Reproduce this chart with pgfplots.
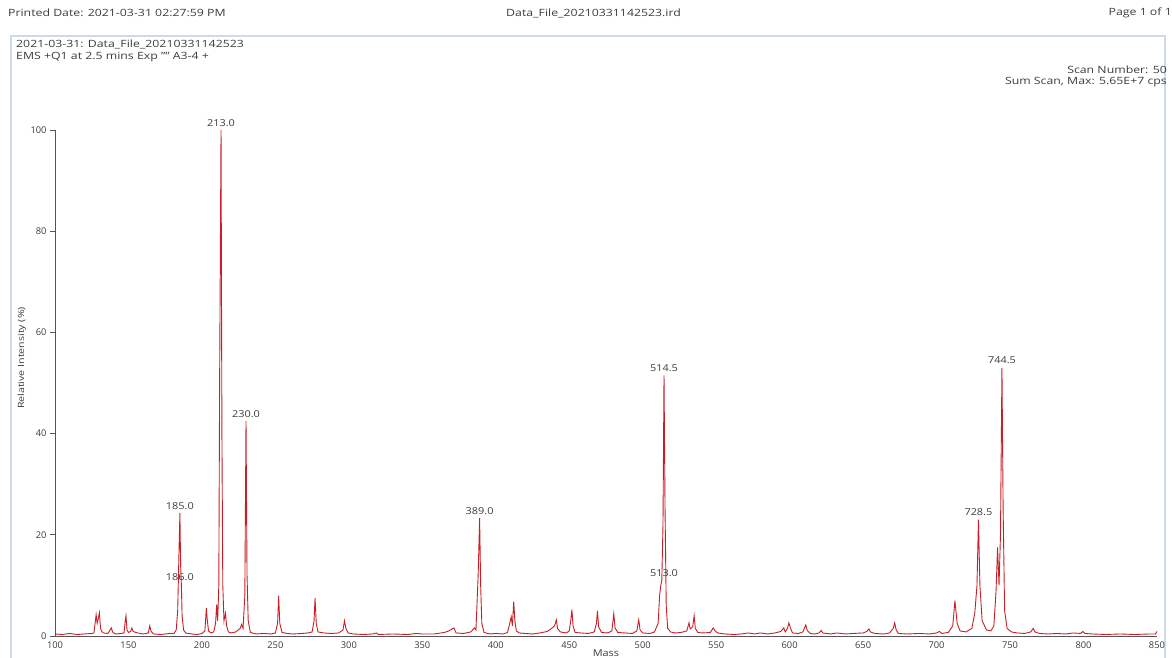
\documentclass[border=0pt]{standalone}
\usepackage{fontspec}
\setmainfont{Open Sans}
\usepackage{graphicx}
\usepackage{pgfplots}
\pgfplotsset{compat=1.18}
\definecolor{specred}{RGB}{200,30,38}
\definecolor{axgray}{RGB}{85,85,85}
\definecolor{txtgray}{RGB}{60,60,60}
\definecolor{framecol}{RGB}{205,218,232}
\newcommand\hdr[1]{\scalebox{1.23}[1]{\fontsize{10}{12}\selectfont #1}}
\newcommand\lab[1]{\scalebox{1.15}[1]{\fontsize{9.5}{11}\selectfont #1}}
\begin{document}
\begin{tikzpicture}[x=1pt,y=1pt]
\path[use as bounding box] (0,0) rectangle (1172,657);
\draw[framecol, line width=2pt] (11,-5) -- (11,621) -- (1165,621) -- (1165,-5);
\node[anchor=west, text=txtgray, inner sep=0] at (8,644) {\hdr{Printed Date: 2021-03-31 02:27:59 PM}};
\node[anchor=west, text=txtgray, inner sep=0] at (506,644) {\hdr{Data\_File\_20210331142523.ird}};
\node[anchor=east, text=txtgray, inner sep=0] at (1172,644) {\hdr{Page 1 of 1}};
\node[anchor=west, text=txtgray, inner sep=0] at (16,613) {\hdr{2021-03-31: Data\_File\_20210331142523}};
\node[anchor=west, text=txtgray, inner sep=0] at (16,600) {\hdr{EMS +Q1 at 2.5 mins Exp "" A3-4 +}};
\node[anchor=east, text=txtgray, inner sep=0] at (1167,587) {\hdr{Scan Number: 50}};
\node[anchor=east, text=txtgray, inner sep=0] at (1167,575) {\hdr{Sum Scan, Max: 5.65E+7 cps}};
\node[rotate=90, text=txtgray, inner sep=0] at (22,299) {\scalebox{1.25}[1]{\fontsize{8.5}{10}\selectfont Relative Intensity (\%)}};
\begin{axis}[
  at={(55pt,21pt)}, anchor=south west,
  width=1102pt, height=506pt, scale only axis,
  xmin=100, xmax=850, ymin=0, ymax=100,
  axis x line=bottom, axis y line=left,
  axis line style={axgray, line width=0.8pt, -},
  xtick={100,150,...,850}, ytick={0,20,...,100},
  tick style={axgray, line width=0.8pt},
  major tick length=5pt,
  x tick style={draw=none},
  tick align=outside,
  /pgf/number format/assume math mode=true,
  tick label style={font=\fontsize{9.3}{11}\selectfont, text=txtgray},
  xticklabel style={yshift=3pt},
  xlabel={\lab{Mass}}, xlabel style={text=txtgray, yshift=6pt},
  clip=false,
]
\addplot[specred, line width=0.9pt] coordinates {
(100,0.4)(105,0.3)(110,0.5)(115,0.3)(120,0.4)(125,0.5)(126.5,0.6)(127.5,3)(128,4.2)(128.7,2.5)(129.5,3.5)(130.2,4.6)(131,1.5)(132,0.8)(133,0.6)(136,0.5)(137.5,1.2)(138.3,1.6)(139.2,0.8)(141,0.4)(145,0.5)(147,0.6)(147.8,3)(148.3,4)(149,1.2)(150,0.7)(151.5,0.9)(152.3,1.6)(153.2,0.9)(155,0.7)(158,0.5)(160,0.4)(163.5,0.6)(164.5,2)(165.3,1)(167,0.4)(172,0.3)(178,0.5)(181,0.5)(182.5,1.2)(183.5,5)(184.5,18)(185,24.3)(185.5,14)(186,10.2)(186.5,4)(187.5,1.2)(189,0.6)(193,0.4)(197,0.3)(200,0.5)(202,1)(203,5.5)(203.7,3)(204.5,1)(206,0.6)(208,0.8)(209.3,2.5)(210,6.2)(210.7,3)(211.5,10)(212,48)(213,100)(213.6,40)(214.2,10)(215,3)(216,4.5)(216.8,2)(218,0.8)(220,0.6)(223,0.8)(226,1.5)(227,2.3)(228,1.5)(229.2,8)(230,42.5)(230.7,12)(231.5,3)(233,0.7)(237,0.4)(242,0.5)(247,0.4)(250,0.6)(251.5,2.5)(252.2,8)(253,2.5)(254.5,0.7)(258,0.5)(262,0.4)(268,0.5)(272,0.6)(275,0.8)(276.3,3)(277,7.5)(277.8,2.5)(279,0.8)(283,0.6)(288,0.5)(293,0.6)(296,1.2)(297,3)(298,1.5)(299.5,0.6)(303,0.4)(310,0.3)(316,0.4)(319,0.6)(320,0.3)(330,0.4)(340,0.3)(346,0.5)(350,0.4)(358,0.4)(365,0.7)(368,1)(371.5,1.6)(373,0.6)(378,0.5)(383,0.8)(385.5,1.6)(386.5,1.2)(388,12)(389,23.3)(389.7,10)(390.5,2.5)(392,0.7)(396,0.4)(400,0.5)(405,0.4)(408,0.7)(409.5,2.5)(410.5,3.8)(411.3,2)(412.2,6.8)(413,3)(414,1)(416,0.6)(420,0.5)(425,0.4)(430,0.6)(435,0.9)(438,1.5)(440,2)(441.2,3.2)(442,1.5)(444,0.8)(448,0.6)(450,1)(451,3)(451.8,5.2)(452.6,2)(454,0.7)(458,0.6)(463,0.5)(467,0.8)(468.5,2.5)(469.2,5)(470,1.8)(472,0.7)(476,0.6)(479,1)(480.3,4.4)(481.2,1.6)(483,0.7)(488,0.6)(493,0.5)(496,1)(497.3,3.2)(498.2,1.2)(500,0.6)(505,0.5)(508,0.8)(510.5,2.5)(511.5,8)(512.3,10)(513,11)(513.8,22)(514.5,51.5)(515.2,25)(516,6)(517,1.5)(519,0.8)(522,0.6)(526,0.7)(530,1)(531.5,2.6)(532.3,1.4)(534,1.8)(535,4)(535.8,1.5)(537.5,0.7)(541,0.6)(546,0.7)(548,1.6)(549,1.1)(551,0.6)(556,0.4)(562,0.3)(567,0.4)(572,0.6)(576,0.4)(580,0.6)(585,0.4)(590,0.6)(594,0.9)(596,1.6)(597,0.8)(598.5,1.5)(599.5,2.6)(600.5,1.6)(602,0.6)(606,0.5)(609,0.8)(611,2.2)(612,1.1)(614,0.5)(617,0.4)(620,0.6)(621.5,1.1)(622.5,0.6)(628,0.4)(632,0.6)(638,0.4)(643,0.5)(650,0.6)(652.5,0.9)(654,1.4)(655,0.8)(658,0.5)(664,0.4)(668,0.6)(670.5,1.5)(671.5,2.6)(672.5,1.2)(674,0.5)(680,0.4)(688,0.5)(695,0.4)(700,0.6)(702,0.9)(703.5,0.5)(708,0.7)(711,2)(712.5,7)(714,2.5)(716,1)(720,0.8)(724,1.5)(726,4.5)(727.5,10)(728.5,23)(729.5,10)(731,3)(734,1.2)(737,1)(739,2)(740.5,9)(741.5,17.5)(742.5,10)(743.5,20)(744.5,53)(745.3,25)(746.3,5)(748,1.5)(751,0.8)(755,0.6)(760,0.5)(764,0.8)(765.8,1.5)(767,0.8)(770,0.5)(776,0.4)(782,0.5)(788,0.4)(793,0.6)(798,0.5)(799.5,0.9)(801,0.5)(806,0.4)(815,0.3)(825,0.4)(835,0.3)(845,0.4)(849,0.4)(850,0.9)
};
\begin{scope}[every node/.style={text=txtgray, inner sep=1pt, anchor=south}]
\node at (axis cs:213,100.5) {\lab{213.0}};
\node at (axis cs:230,43) {\lab{230.0}};
\node at (axis cs:185,24.8) {\lab{185.0}};
\node at (axis cs:185,10.7) {\lab{186.0}};
\node at (axis cs:389,23.8) {\lab{389.0}};
\node at (axis cs:514.5,52) {\lab{514.5}};
\node at (axis cs:514.5,11.5) {\lab{513.0}};
\node at (axis cs:728.5,23.5) {\lab{728.5}};
\node at (axis cs:744.5,53.5) {\lab{744.5}};
\end{scope}
\end{axis}
\end{tikzpicture}
\end{document}
